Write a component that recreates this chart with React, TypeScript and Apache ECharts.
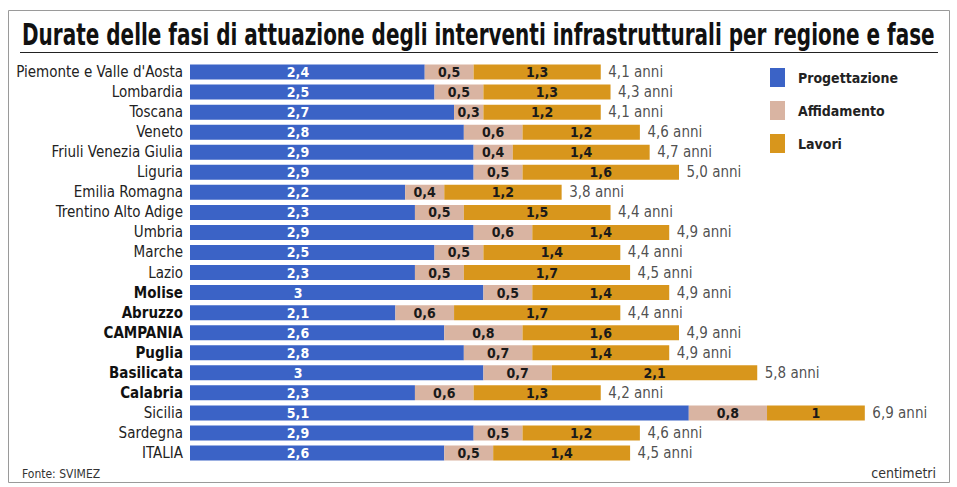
import React, { useEffect, useRef } from "react";
import * as echarts from "echarts";

const regions = [
  "Piemonte e Valle d'Aosta", "Lombardia", "Toscana", "Veneto", "Friuli Venezia Giulia",
  "Liguria", "Emilia Romagna", "Trentino Alto Adige", "Umbria", "Marche", "Lazio",
  "Molise", "Abruzzo", "CAMPANIA", "Puglia", "Basilicata", "Calabria", "Sicilia",
  "Sardegna", "ITALIA",
];
const boldRegions = ["Molise", "Abruzzo", "CAMPANIA", "Puglia", "Basilicata", "Calabria"];
const progettazione = [2.4, 2.5, 2.7, 2.8, 2.9, 2.9, 2.2, 2.3, 2.9, 2.5, 2.3, 3, 2.1, 2.6, 2.8, 3, 2.3, 5.1, 2.9, 2.6];
const affidamento = [0.5, 0.5, 0.3, 0.6, 0.4, 0.5, 0.4, 0.5, 0.6, 0.5, 0.5, 0.5, 0.6, 0.8, 0.7, 0.7, 0.6, 0.8, 0.5, 0.5];
const lavori = [1.3, 1.3, 1.2, 1.2, 1.4, 1.6, 1.2, 1.5, 1.4, 1.4, 1.7, 1.4, 1.7, 1.6, 1.4, 2.1, 1.3, 1, 1.2, 1.4];
const totali = [4.1, 4.3, 4.1, 4.6, 4.7, 5.0, 3.8, 4.4, 4.9, 4.4, 4.5, 4.9, 4.4, 4.9, 4.9, 5.8, 4.2, 6.9, 4.6, 4.5];

const TITLE = "Durate delle fasi di attuazione degli interventi infrastrutturali per regione e fase";
const FONT = '"Liberation Sans Narrow", "DejaVu Sans Condensed", "Arial Narrow", sans-serif';
const BLUE = "#3b63c6";
const PINK = "#d9b4a2";
const ORANGE = "#d8961c";

const fmt = (v: number) => String(v).replace(".", ",");

function measure(text: string, font: string): number {
  const c = document.createElement("canvas").getContext("2d");
  if (!c) return 1150;
  c.font = font;
  return c.measureText(text).width;
}

export default function App() {
  const ref = useRef<HTMLDivElement>(null);
  useEffect(() => {
    if (!ref.current) return;
    const chart = echarts.init(ref.current, undefined, { renderer: "svg" });
    const titleSize = 30;
    const titleW = measure(TITLE, `bold ${titleSize}px ${FONT}`);
    const titleScale = Math.min(1, 913 / titleW);
    const valueLabel = (color: string) => ({
      show: true,
      position: "inside" as const,
      color,
      fontFamily: FONT,
      fontWeight: "bold" as const,
      fontSize: 14,
      formatter: (p: any) => fmt(p.value),
    });
    chart.setOption({
      animation: false,
      backgroundColor: "#ffffff",
      grid: { left: 190, right: 33.5, top: 62, height: 401, containLabel: false },
      xAxis: { type: "value", min: 0, max: 7.5, show: false },
      yAxis: {
        type: "category",
        data: regions,
        inverse: true,
        axisLine: { show: false },
        axisTick: { show: false },
        splitLine: { show: false },
        axisLabel: {
          margin: 7,
          fontFamily: FONT,
          fontSize: 15,
          color: "#222",
          formatter: (v: string) => (boldRegions.includes(v) ? `{b|${v}}` : `{n|${v}}`),
          rich: {
            n: { fontFamily: FONT, fontSize: 15, color: "#222" },
            b: { fontFamily: FONT, fontSize: 15, color: "#111", fontWeight: "bold" },
          },
        },
      },
      legend: {
        orient: "vertical",
        left: 765,
        top: 63,
        itemWidth: 15,
        itemHeight: 19,
        itemGap: 14,
        icon: "rect",
        textStyle: { fontFamily: FONT, fontWeight: "bold", fontSize: 14, color: "#222", padding: [0, 0, 0, 8] },
        data: ["Progettazione", "Affidamento", "Lavori"],
      },
      series: [
        {
          name: "Progettazione",
          type: "bar",
          stack: "t",
          barWidth: 15,
          data: progettazione,
          itemStyle: { color: BLUE },
          label: {
            ...valueLabel("#ffffff"),
            position: [108, "50%"],
            align: "center",
            verticalAlign: "middle",
          },
        },
        {
          name: "Affidamento",
          type: "bar",
          stack: "t",
          barWidth: 15,
          data: affidamento,
          itemStyle: { color: PINK },
          label: valueLabel("#1a1a1a"),
        },
        {
          name: "Lavori",
          type: "bar",
          stack: "t",
          barWidth: 15,
          data: lavori,
          itemStyle: { color: ORANGE },
          label: valueLabel("#1a1a1a"),
        },
        {
          name: "Totale",
          type: "scatter",
          symbol: "circle",
          symbolSize: 1,
          itemStyle: { color: "rgba(0,0,0,0)" },
          silent: true,
          data: regions.map((r, i) => [progettazione[i] + affidamento[i] + lavori[i], r, totali[i]]),
          label: {
            show: true,
            position: "right",
            distance: 7,
            fontFamily: FONT,
            fontSize: 15,
            color: "#222",
            formatter: (p: any) => p.value[2].toFixed(1).replace(".", ",") + " anni",
          },
        },
      ],
      graphic: [
        {
          type: "rect",
          shape: { x: 8.5, y: 10.5, width: 941, height: 472 },
          style: { fill: "none", stroke: "#9a9a9a", lineWidth: 1 },
          silent: true,
        },
        {
          type: "text",
          x: 22,
          y: 34,
          scaleX: titleScale,
          style: {
            text: TITLE,
            fontFamily: FONT,
            fontWeight: "bold",
            fontSize: titleSize,
            fill: "#111",
            textVerticalAlign: "middle",
          },
        },
        {
          type: "line",
          shape: { x1: 20, y1: 52.5, x2: 938, y2: 52.5 },
          style: { stroke: "#222", lineWidth: 1.2 },
        },
        {
          type: "text",
          x: 22,
          y: 474,
          style: { text: "Fonte: SVIMEZ", fontFamily: FONT, fontSize: 12, fill: "#333", textVerticalAlign: "middle" },
        },
        {
          type: "text",
          x: 936,
          y: 473,
          style: {
            text: "centimetri",
            fontFamily: FONT,
            fontSize: 14,
            fill: "#333",
            textAlign: "right",
            textVerticalAlign: "middle",
          },
        },
      ],
    });
    return () => chart.dispose();
  }, []);
  return (
    <div
      ref={ref}
      style={{ position: "fixed", left: 0, top: 0, width: 957, height: 487, background: "#fff" }}
    />
  );
}
